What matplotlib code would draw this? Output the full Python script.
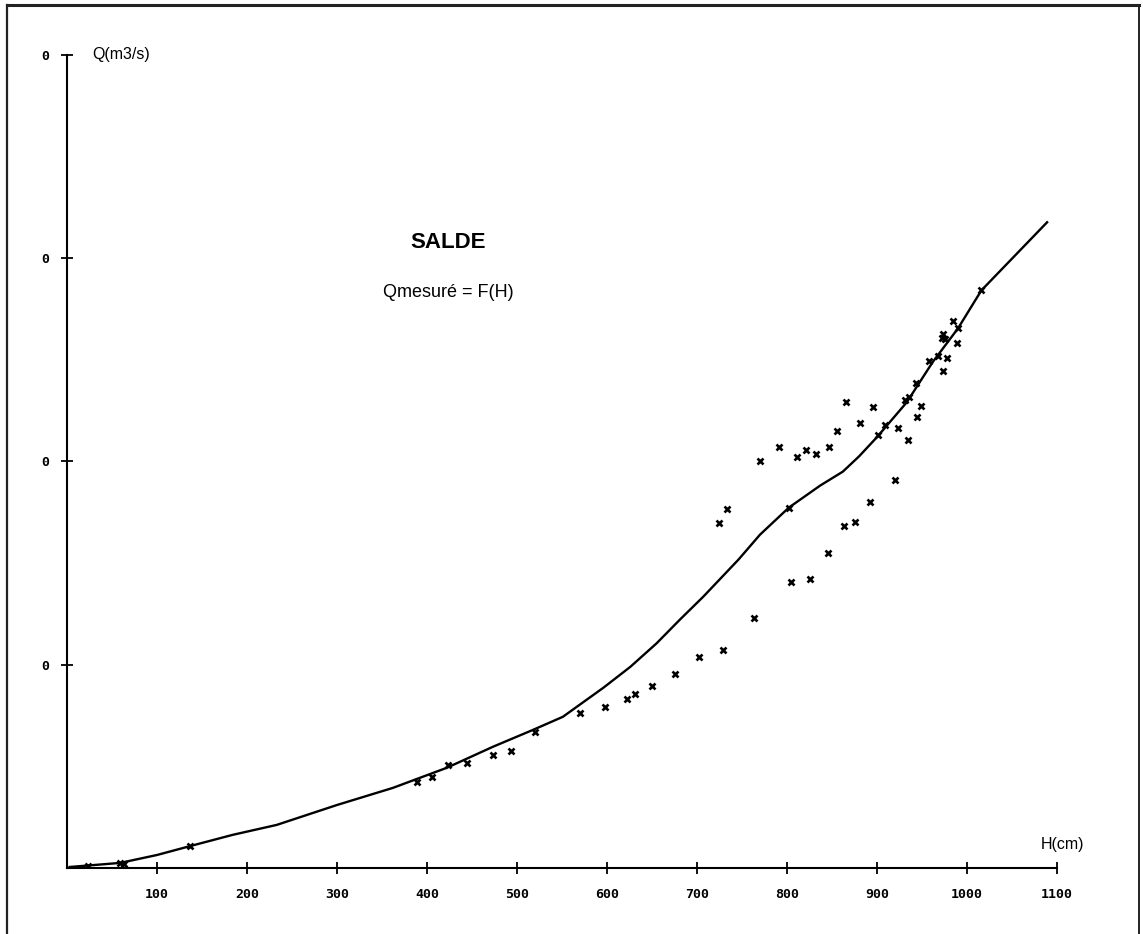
import matplotlib
matplotlib.use("Agg")
import matplotlib.pyplot as plt
from matplotlib.lines import Line2D

# ---- data ----
h_measured = [23, 59, 63, 137, 389, 406, 423, 444, 473, 493, 520, 570, 598, 622, 631,
              650, 676, 702, 729, 763, 804, 826, 724, 733, 770, 791, 811, 821, 832, 847,
              856, 866, 881, 896, 901, 909, 923, 934, 802, 846, 863, 876, 892, 920, 931,
              936, 943, 949, 944, 958, 968, 973, 978, 973, 972, 976, 984, 989, 990, 1016]
q_measured = [1.0, 2.5, 2.0, 10.8, 42.4, 44.8, 50.7, 51.7, 55.7, 57.6, 67.0, 76.4, 79.3, 83.3, 85.7,
              89.7, 95.6, 103.9, 107.4, 123.2, 140.9, 142.4, 169.5, 176.4, 200.0, 206.9, 202.0, 205.9, 203.9, 206.9,
              214.8, 229.1, 218.7, 226.6, 212.8, 218.2, 216.7, 210.8, 177.3, 155.2, 168.5, 170.0, 180.3, 191.1, 230.5,
              231.5, 238.4, 227.1, 221.7, 249.3, 251.7, 244.3, 250.7, 262.6, 260.6, 260.1, 269.0, 258.1, 265.5, 284.2]

h_curve = [3, 59, 100, 137, 184, 233, 300, 362, 422, 473, 518, 551, 596, 626, 655,
           681, 707, 746, 770, 802, 837, 862, 880, 900, 933, 962, 990, 1016, 1089]
q_curve = [0.5, 2.5, 6.4, 10.8, 16.3, 21.2, 31.0, 39.4, 49.3, 59.6, 68.0, 74.4, 88.7, 99.0, 110.5,
           122.2, 133.5, 151.7, 164.0, 177.3, 188.2, 195.0, 202.5, 212.0, 229.1, 249.0, 265.5, 284.2, 317.7]

x_ticks = [100, 200, 300, 400, 500, 600, 700, 800, 900, 1000, 1100]
x_tick_labels = ["100", "200", "300", "400", "500", "600", "700", "800", "900", "1000", "1100"]
y_ticks = [100, 200, 300, 400]
y_tick_labels = ["0", "0", "0", "0"]

title_text = "SALDE"
subtitle_text = "Qmesuré = F(H)"
x_label = "H(cm)"
y_label = "Q(m3/s)"

W, H = 1143, 934
fig = plt.figure(figsize=(W / 100, H / 100), dpi=100)
fig.patch.set_facecolor("white")

def fx(px):
    return px / W

def fy(py):
    return 1 - py / H

ax = fig.add_axes([fx(67), fy(868), fx(1057) - fx(67), fy(55) - fy(868)])
ax.set_xlim(0, 1100)
ax.set_ylim(0, 400)

ax.plot(h_curve, q_curve, color="black", lw=1.7, solid_joinstyle="round")
ax.plot(h_measured, q_measured, linestyle="none", marker="x", color="black",
        markersize=5, markeredgewidth=1.9)

for s in ["top", "right"]:
    ax.spines[s].set_visible(False)
for s in ["left", "bottom"]:
    ax.spines[s].set_linewidth(1.5)

ax.set_xticks(x_ticks)
ax.set_xticklabels(x_tick_labels, fontfamily="DejaVu Sans Mono", fontweight="bold", fontsize=9.5)
ax.set_yticks(y_ticks)
ax.set_yticklabels(y_tick_labels, fontfamily="DejaVu Sans Mono", fontweight="bold", fontsize=9.5)
ax.tick_params(axis="x", direction="inout", length=9, width=1.3, pad=10)
ax.tick_params(axis="y", direction="inout", length=9, width=1.3, pad=8)

fig.text(fx(92), fy(54), y_label, fontfamily="Liberation Sans", fontsize=11.5,
         ha="left", va="center")
fig.text(fx(1062), fy(845), x_label, fontfamily="Liberation Sans", fontsize=11.5,
         ha="center", va="center")
fig.text(fx(448), fy(243), title_text, fontfamily="Liberation Sans", fontsize=16,
         fontweight="bold", ha="center", va="center")
fig.text(fx(448), fy(293), subtitle_text, fontfamily="Liberation Sans", fontsize=13,
         ha="center", va="center")

# page frame (left, top, right)
fig.add_artist(Line2D([fx(7), fx(7)], [0, fy(5)], color="#222222", lw=1.6, transform=fig.transFigure))
fig.add_artist(Line2D([fx(7), fx(1139)], [fy(5), fy(5)], color="#222222", lw=2.2, transform=fig.transFigure))
fig.add_artist(Line2D([fx(1139), fx(1139)], [0, fy(5)], color="#222222", lw=1.4, transform=fig.transFigure))

fig.savefig("out.png", dpi=100, facecolor="white")
